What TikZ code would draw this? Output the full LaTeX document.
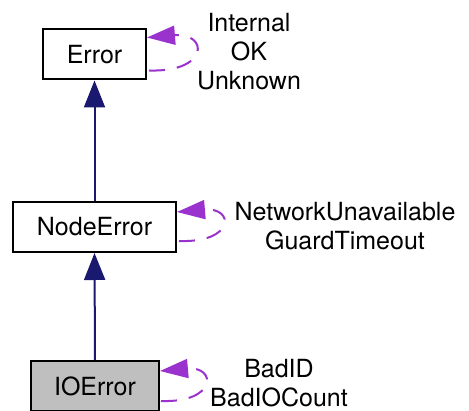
\documentclass[tikz,border=0pt]{standalone}
\usepackage{fontspec}
\setmainfont{TeX Gyre Heros}
\usetikzlibrary{arrows.meta,calc}
\definecolor{navyarrow}{HTML}{191970}
\definecolor{orchidarrow}{HTML}{9A32CD}
\definecolor{grayfill}{HTML}{BFBFBF}
\begin{document}
\begin{tikzpicture}[x=1pt,y=-1pt,
  classbox/.style={draw=black,line width=2pt,fill=white,inner sep=0pt,
    minimum height=50pt,font=\fontsize{25}{29}\selectfont},
  inh/.style={draw=navyarrow,line width=2pt,-{Triangle[length=27pt,width=21pt]}},
  selfloop/.style={draw=orchidarrow,line width=2pt,dash pattern=on 16pt off 12pt,
    -{Triangle[length=28pt,width=19pt]}},
  lbl/.style={inner sep=0pt,align=center,font=\fontsize{25}{29}\selectfont}]
\useasboundingbox (0,0) rectangle (469,411);
\node[classbox,minimum width=103pt] (error) at (94.5,54.5) {Error};
\node[classbox,minimum width=163pt] (nodeerror) at (94.5,227) {NodeError};
\node[classbox,minimum width=128pt,fill=grayfill] (ioerror) at (95,386) {IOError};
\draw[inh] (nodeerror.north) -- (error.south);
\draw[inh] (ioerror.north) -- (nodeerror.south);
\draw[selfloop] ($(error.east)+(2,16)$) .. controls ($(error.east)+(62,18)$) and ($(error.east)+(62,-22)$) .. ($(error.east)+(0,-17)$);
\draw[selfloop] ($(nodeerror.east)+(2,14)$) .. controls ($(nodeerror.east)+(58,16)$) and ($(nodeerror.east)+(58,-20)$) .. ($(nodeerror.east)+(0,-15)$);
\draw[selfloop] ($(ioerror.east)+(1,15)$) .. controls ($(ioerror.east)+(57,17)$) and ($(ioerror.east)+(57,-20)$) .. ($(ioerror.east)+(0,-15)$);
\node[lbl] (errlbl) at (249,52) {Internal\\OK\\Unknown};
\node[lbl] (nodelbl) at (345,226.5) {NetworkUnavailable\\GuardTimeout};
\node[lbl] (iolbl) at (279,383) {BadID\\BadIOCount};
\end{tikzpicture}
\end{document}
